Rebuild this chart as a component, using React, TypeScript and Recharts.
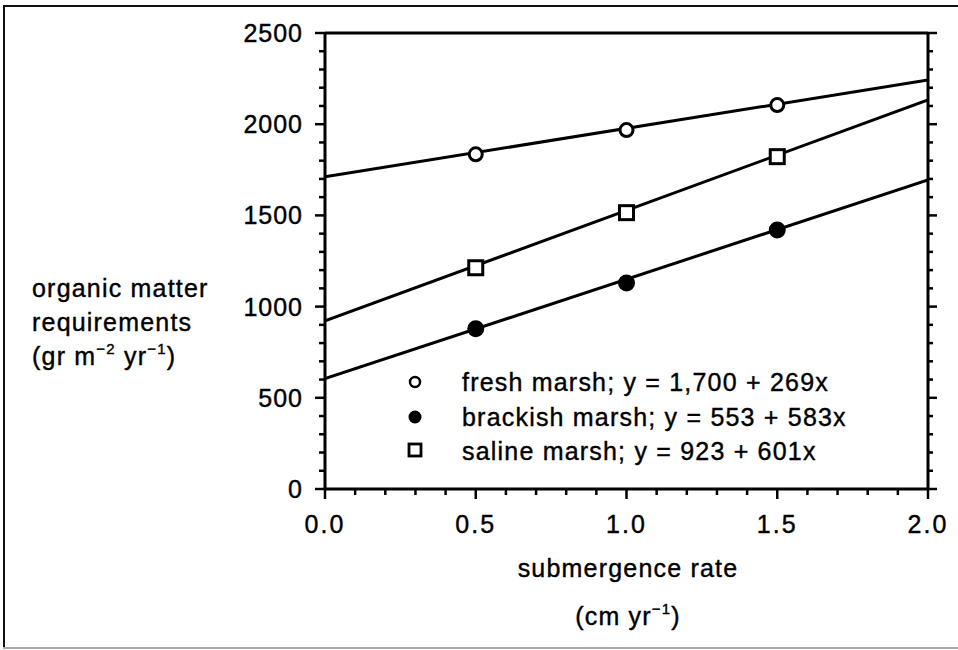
import React from 'react';
import { ComposedChart, Line, Scatter, XAxis, YAxis, ReferenceLine, Legend } from 'recharts';

const FONT = '"Liberation Sans", Arial, Helvetica, sans-serif';

// tick values
const xMajorTicks = [0, 0.5, 1.0, 1.5, 2.0];
const xMinorTicks = [0, 0.1, 0.2, 0.3, 0.4, 0.5, 0.6, 0.7, 0.8, 0.9, 1.0, 1.1, 1.2, 1.3, 1.4, 1.5, 1.6, 1.7, 1.8, 1.9, 2.0];
const yMajorTicks = [0, 500, 1000, 1500, 2000, 2500];
const yMinorTicks = [0, 100, 200, 300, 400, 500, 600, 700, 800, 900, 1000, 1100, 1200, 1300, 1400, 1500, 1600, 1700, 1800, 1900, 2000, 2100, 2200, 2300, 2400, 2500];

// observed points
const submergence = [0.5, 1.0, 1.5];
const freshValues = [1835, 1968, 2105];
const brackishValues = [878, 1130, 1420];
const salineValues = [1213, 1515, 1822];

// fitted lines (end points as drawn)
const fitX = [0, 2];
const freshFit = [1712, 2242];
const brackishFit = [605, 1695];
const salineFit = [922, 2133];

const legendLabels = [
  'fresh marsh; y = 1,700 + 269x',
  'brackish marsh; y = 553 + 583x',
  'saline marsh; y = 923 + 601x',
];

const toPts = (xs: number[], ys: number[]) => xs.map((x, i) => ({ x, y: ys[i] }));

const freshPts = toPts(submergence, freshValues);
const brackishPts = toPts(submergence, brackishValues);
const salinePts = toPts(submergence, salineValues);
const freshLine = toPts(fitX, freshFit);
const brackishLine = toPts(fitX, brackishFit);
const salineLine = toPts(fitX, salineFit);

const isMajorX = (v: number) => xMajorTicks.some((m) => Math.abs(m - v) < 1e-9);
const isMajorY = (v: number) => yMajorTicks.some((m) => Math.abs(m - v) < 1e-9);

const OpenCircle = (p: any) => (
  <circle cx={p.cx} cy={p.cy} r={6.5} fill="#fff" stroke="#000" strokeWidth={3} />
);
const FilledCircle = (p: any) => (
  <circle cx={p.cx} cy={p.cy} r={8.5} fill="#000" stroke="none" />
);
const OpenSquare = (p: any) => (
  <rect x={p.cx - 7} y={p.cy - 7} width={14} height={14} fill="#fff" stroke="#000" strokeWidth={3} />
);

const textStyle = {
  fontFamily: FONT,
  fontSize: 25,
  fill: '#000',
  stroke: '#000',
  strokeWidth: 0.4,
  letterSpacing: 1.2,
} as const;

const LegendContent = () => (
  <svg width={500} height={110} style={{ display: 'block', overflow: 'visible' }}>
    <circle cx={15} cy={22} r={5} fill="#fff" stroke="#000" strokeWidth={2.5} />
    <circle cx={15} cy={57} r={6.5} fill="#000" />
    <rect x={9} y={84} width={12} height={12} fill="#fff" stroke="#000" strokeWidth={2.8} />
    {legendLabels.map((t, i) => (
      <text key={t} x={62} y={22 + i * 34.5} dy="0.36em" style={textStyle}>
        {t}
      </text>
    ))}
  </svg>
);

const BottomTick = (props: any) => {
  const { x, y, payload } = props;
  const v = Number(payload.value);
  const major = isMajorX(v);
  return (
    <g>
      <line x1={x} x2={x} y1={y} y2={y + (major ? 10 : 6)} stroke="#000" strokeWidth={2.5} />
      {major && (
        <text x={x} y={y + 26} dy="0.71em" textAnchor="middle" style={{ ...textStyle, letterSpacing: 2 }}>
          {v.toFixed(1)}
        </text>
      )}
    </g>
  );
};

const LeftTick = (props: any) => {
  const { x, y, payload } = props;
  const v = Number(payload.value);
  const major = isMajorY(v);
  return (
    <g>
      <line x1={x} x2={x - (major ? 10 : 6)} y1={y} y2={y} stroke="#000" strokeWidth={2.5} />
      {major && (
        <text x={x - 22} y={y} dy="0.36em" textAnchor="end" style={{ ...textStyle, letterSpacing: 1 }}>
          {String(v)}
        </text>
      )}
    </g>
  );
};

const RightTick = (props: any) => {
  const { x, y, payload } = props;
  const v = Number(payload.value);
  const major = isMajorY(v);
  return <line x1={x} x2={x + (major ? 9 : 5)} y1={y} y2={y} stroke="#000" strokeWidth={2.5} />;
};

export default function App() {
  return (
    <div
      style={{
        position: 'absolute',
        left: 0,
        top: 0,
        width: 958,
        height: 650,
        background: '#fff',
        overflow: 'hidden',
      }}
    >
      <div style={{ position: 'absolute', left: 0, top: 0 }}>
        <ComposedChart width={958} height={650} margin={{ top: 33, right: 0, bottom: 0, left: 0 }}>
          <XAxis
            xAxisId="main"
            dataKey="x"
            type="number"
            domain={[0, 2]}
            ticks={xMinorTicks}
            interval={0}
            height={161}
            tickSize={0}
            tickMargin={0}
            tick={BottomTick}
            tickLine={false}
            axisLine={{ stroke: '#000', strokeWidth: 3 }}
            allowDataOverflow
          />
          <YAxis
            yAxisId="main"
            dataKey="y"
            type="number"
            domain={[0, 2500]}
            ticks={yMinorTicks}
            interval={0}
            width={325}
            tickSize={0}
            tickMargin={0}
            tick={LeftTick}
            tickLine={false}
            axisLine={{ stroke: '#000', strokeWidth: 3 }}
            allowDataOverflow
          />
          <YAxis
            yAxisId="right"
            orientation="right"
            type="number"
            domain={[0, 2500]}
            ticks={yMinorTicks}
            interval={0}
            width={30}
            tickSize={0}
            tickMargin={0}
            tick={RightTick}
            tickLine={false}
            axisLine={{ stroke: '#000', strokeWidth: 3 }}
            allowDataOverflow
          />
          <ReferenceLine xAxisId="main" yAxisId="main" y={2500} stroke="#000" strokeWidth={3} />
          <Line
            xAxisId="main"
            yAxisId="main"
            data={freshLine}
            dataKey="y"
            stroke="#000"
            strokeWidth={3}
            dot={false}
            activeDot={false}
            legendType="none"
            isAnimationActive={false}
          />
          <Line
            xAxisId="main"
            yAxisId="main"
            data={brackishLine}
            dataKey="y"
            stroke="#000"
            strokeWidth={3}
            dot={false}
            activeDot={false}
            legendType="none"
            isAnimationActive={false}
          />
          <Line
            xAxisId="main"
            yAxisId="main"
            data={salineLine}
            dataKey="y"
            stroke="#000"
            strokeWidth={3}
            dot={false}
            activeDot={false}
            legendType="none"
            isAnimationActive={false}
          />
          <Scatter xAxisId="main" yAxisId="main" data={freshPts} dataKey="y" shape={OpenCircle} isAnimationActive={false} />
          <Scatter xAxisId="main" yAxisId="main" data={brackishPts} dataKey="y" shape={FilledCircle} isAnimationActive={false} />
          <Scatter xAxisId="main" yAxisId="main" data={salinePts} dataKey="y" shape={OpenSquare} isAnimationActive={false} />
          <Legend
            layout="vertical"
            align="center"
            verticalAlign="middle"
            content={LegendContent}
            wrapperStyle={{ position: 'absolute', left: 400, top: 360, width: 500, height: 110 }}
          />
        </ComposedChart>
      </div>
      <svg
        width={958}
        height={650}
        style={{ position: 'absolute', left: 0, top: 0, pointerEvents: 'none' }}
      >
        <line x1={4} y1={5} x2={4} y2={648} stroke="#111" strokeWidth={2} />
        <line x1={3} y1={6} x2={958} y2={6} stroke="#111" strokeWidth={2} />
        <line x1={3} y1={648} x2={958} y2={648} stroke="#aaa" strokeWidth={2} />
        <text x={32} y={297} style={textStyle}>organic matter</text>
        <text x={32} y={331} style={textStyle}>requirements</text>
        <text x={32} y={365} style={textStyle}>
          (gr m<tspan dy={-11} fontSize={15}>−2</tspan>
          <tspan dy={11}> yr</tspan>
          <tspan dy={-11} fontSize={15}>−1</tspan>
          <tspan dy={11}>)</tspan>
        </text>
        <text x={628} y={577} textAnchor="middle" style={textStyle}>submergence rate</text>
        <text x={628} y={625} textAnchor="middle" style={textStyle}>
          (cm yr<tspan dy={-11} fontSize={15}>−1</tspan>
          <tspan dy={11}>)</tspan>
        </text>
      </svg>
    </div>
  );
}
